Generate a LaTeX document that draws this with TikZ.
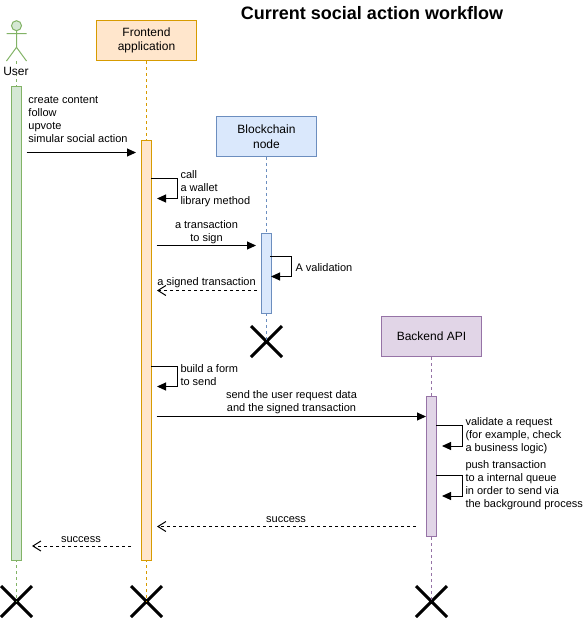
\documentclass[tikz,border=0pt]{standalone}
\usepackage{fontspec}
\setmainfont{Liberation Sans}
\usetikzlibrary{arrows.meta,shapes.misc}
\definecolor{userfill}{HTML}{D5E8D4}
\definecolor{userline}{HTML}{82B366}
\definecolor{frontfill}{HTML}{FFE6CC}
\definecolor{frontline}{HTML}{D79B00}
\definecolor{chainfill}{HTML}{DAE8FC}
\definecolor{chainline}{HTML}{6C8EBF}
\definecolor{backfill}{HTML}{E1D5E7}
\definecolor{backline}{HTML}{9673A6}
\begin{document}
\begin{tikzpicture}[x=0.75pt,y=-0.75pt,line width=0.75pt]
\tikzstyle{every node}=[inner sep=0pt,font=\fontsize{8.25}{9.75}\selectfont,align=left]
\tikzstyle{party}=[draw,minimum width=75pt,minimum height=30pt,align=center,font=\fontsize{9}{10.9}\selectfont]
\tikzstyle{bar}=[draw,minimum width=7.5pt]
\tikzstyle{stop}=[draw=black,cross out,line width=2.25pt,minimum size=21pt]
\tikzstyle{lifeline}=[dash pattern=on 2.25pt off 2.25pt]
\tikzstyle{msg}=[-{Triangle[length=6.75pt,width=6pt]}]
\tikzstyle{reply}=[dash pattern=on 2.25pt off 2.25pt,-{Straight Barb[length=6pt,width=7.5pt]}]
\useasboundingbox (0,0) rectangle (583,618);

\node[font=\fontsize{13.5}{16}\selectfont\bfseries] (Title) at (372,13) {Current social action workflow};

% parties
\coordinate (UserFoot) at (16.5,61);
\node[party,fill=frontfill,draw=frontline] (Frontend) at (146.5,40.5) {Frontend\\application};
\node[party,fill=chainfill,draw=chainline] (Chain) at (266.5,136.5) {Blockchain\\node};
\node[party,fill=backfill,draw=backline] (Backend) at (431.5,336.5) {Backend API};
\node[stop] (UserEnd) at (16.5,601.5) {};
\node[stop] (FrontendEnd) at (146.5,601.5) {};
\node[stop] (ChainEnd) at (266.5,341.5) {};
\node[stop] (BackendEnd) at (431.5,601.5) {};

\draw[lifeline,draw=userline] (UserFoot) -- (UserEnd.center);
\foreach \who/\tint in {Frontend/frontline,Chain/chainline,Backend/backline}
  \draw[lifeline,draw=\tint] (\who.south) -- (\who End.center);

% actor
\node[draw=userline,fill=userfill,circle,minimum size=7.5pt] (UserHead) at (16.5,25.7) {};
\coordinate (UserHip) at (16.5,47.3);
\coordinate (UserArmL) at (6.5,33.7);
\coordinate (UserArmR) at (26.5,33.7);
\coordinate (UserLegL) at (6.5,61);
\coordinate (UserLegR) at (26.5,61);
\draw[userline] (UserHead) -- (UserHip) (UserArmL) -- (UserArmR) (UserLegL) -- (UserHip) -- (UserLegR);
\node[fill=white,font=\fontsize{9}{10.9}\selectfont] (User) at (16,71) {User};

% activation bars
\node[bar,fill=userfill,draw=userline,minimum height=355.5pt] (UserBar) at (16.5,323.5) {};
\node[bar,fill=frontfill,draw=frontline,minimum height=315pt] (FrontendBar) at (146.5,350.5) {};
\node[bar,fill=chainfill,draw=chainline,minimum height=60pt] (ChainBar) at (266.5,273.5) {};
\node[bar,fill=backfill,draw=backline,minimum height=105pt] (BackendBar) at (431.5,466.5) {};

% messages
\coordinate (a1) at (26.5,152.5);
\coordinate (a2) at (136,152.5);
\draw[msg] (a1) -- (a2);
\node[anchor=west] (ActionText) at (28,119) {create content\\follow\\upvote\\simular social action};

\coordinate (b1) at (151,178.5);
\coordinate (b2) at (177,198.5);
\coordinate (b3) at (157,198.5);
\draw[msg] (b1) -| (b2) -- (b3);
\node[anchor=west] (CallText) at (180,189) {call\\a wallet\\library method};

\coordinate (c1) at (156.5,245.5);
\coordinate (c2) at (256,245.5);
\draw[msg] (c1) -- (c2);
\node[align=center] (SignText) at (206.5,232.5) {a transaction\\to sign};

\coordinate (d1) at (270,256.5);
\coordinate (d2) at (291.5,276.5);
\coordinate (d3) at (271,276.5);
\draw[msg] (d1) -| (d2) -- (d3);
\node[anchor=west] (CheckText) at (295,268) {A validation};

\coordinate (e1) at (257,290.5);
\coordinate (e2) at (157,290.5);
\draw[reply] (e1) -- (e2);
\node (SignedText) at (206.5,283) {a signed transaction};

\coordinate (f1) at (151,366.5);
\coordinate (f2) at (177,386.5);
\coordinate (f3) at (157,386.5);
\draw[msg] (f1) -| (f2) -- (f3);
\node[anchor=west] (FormText) at (180,375.5) {build a form\\to send};

\coordinate (g1) at (156.5,416.5);
\coordinate (g2) at (426,416.5);
\draw[msg] (g1) -- (g2);
\node[align=center] (SendText) at (291.5,402.5) {send the user request data\\and the signed transaction};

\coordinate (h1) at (436,425.5);
\coordinate (h2) at (462,446);
\coordinate (h3) at (442,446);
\draw[msg] (h1) -| (h2) -- (h3);
\node[anchor=west] (RequestText) at (465,436) {validate a request\\(for example, check\\a business logic)};

\coordinate (i1) at (436,475.5);
\coordinate (i2) at (462,496);
\coordinate (i3) at (442,496);
\draw[msg] (i1) -| (i2) -- (i3);
\node[anchor=west] (QueueText) at (465,485.5) {push transaction\\to a internal queue\\in order to send via\\the background process};

\coordinate (j1) at (416,526.5);
\coordinate (j2) at (157,526.5);
\draw[reply] (j1) -- (j2);
\node (DoneText) at (286,520) {success};

\coordinate (k1) at (131,546);
\coordinate (k2) at (32,546);
\draw[reply] (k1) -- (k2);
\node (OkText) at (81,540) {success};
\end{tikzpicture}
\end{document}
